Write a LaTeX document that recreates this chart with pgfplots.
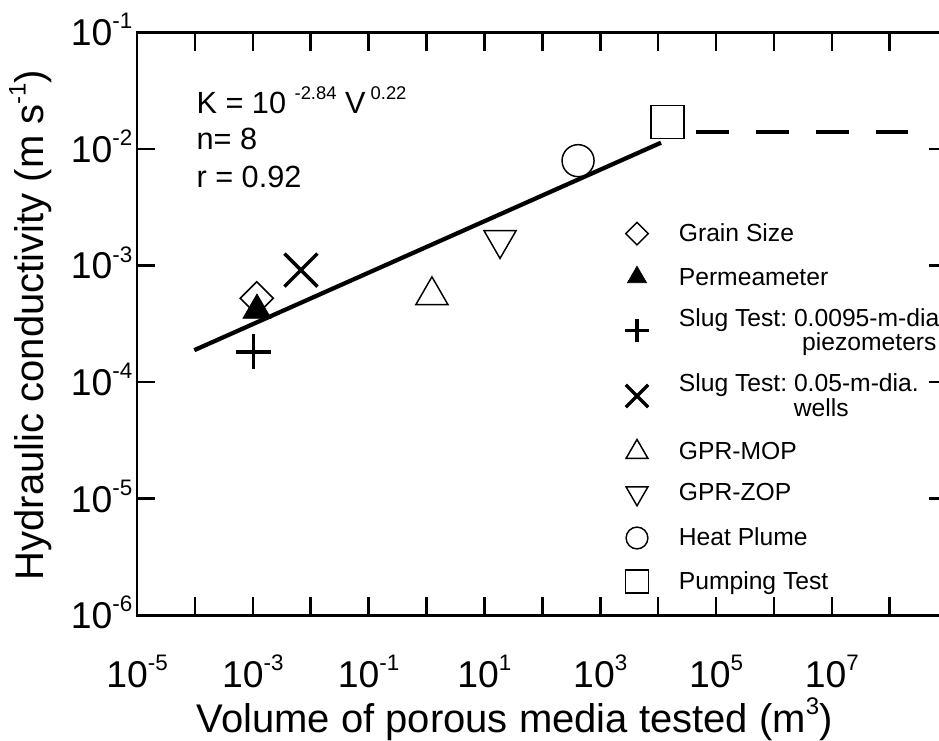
\documentclass[border=0pt]{standalone}
\usepackage{pgfplots}
\pgfplotsset{compat=1.18}
\usepackage{fontspec}
\setmainfont{Liberation Sans}
\frenchspacing
\makeatletter
\newcommand\sups[1]{\raisebox{0.45em}{\fontsize{\fpeval{0.6*\f@size}}{\fpeval{0.7*\f@size}}\selectfont #1}}
\makeatother
\newcommand\tickfont{\fontsize{28}{32}\selectfont}
\newcommand\labfont{\fontsize{30}{34}\selectfont}
\newcommand\legfont{\fontsize{18.5}{16.2}\selectfont}
\newcommand\annfont{\fontsize{23}{26}\selectfont}
\newcommand\ls{\rule[-1.46pt]{0pt}{14.74pt}}
\begin{document}
\begin{tikzpicture}
\useasboundingbox (-102.75pt,-93.525pt) rectangle (601.5pt,461.475pt);
\begin{axis}[
  xmode=log, ymode=log,
  scale only axis, width=608pt, height=437.25pt,
  xmin=1e-5, xmax=1e9, ymin=1e-6, ymax=1e-1,
  axis line style={line width=1.9pt},
  every tick/.style={black, line width=1.9pt},
  tick align=inside, major tick length=13.7pt,
  xminorticks=false, yminorticks=false,
  xtick={1e-5,1e-4,1e-3,1e-2,1e-1,1,1e1,1e2,1e3,1e4,1e5,1e6,1e7,1e8},
  xticklabels={10\sups{-5},,10\sups{-3},,10\sups{-1},,10\sups{1},,10\sups{3},,10\sups{5},,10\sups{7},},
  ytick={1e-6,1e-5,1e-4,1e-3,1e-2,1e-1},
  yticklabels={10\sups{-6},10\sups{-5},10\sups{-4},10\sups{-3},10\sups{-2},10\sups{-1}},
  ticklabel style={font=\tickfont},
  xticklabel style={anchor=base, yshift=-53.8pt},
  yticklabel style={anchor=base east, yshift=-10pt},
  xlabel={Volume of porous media tested (m\sups{3})},
  ylabel={Hydraulic conductivity (m s\sups{-1})},
  label style={font=\labfont},
  xlabel style={at={(axis description cs:0.0679,-0.2012)}, anchor=base west},
  ylabel style={at={(axis description cs:-0.1153,0.498)}, anchor=base},
  legend cell align=left,
  legend style={at={(0.5931,0.6744)}, anchor=north west, draw=none, fill=none,
    inner sep=0pt, row sep=16pt, font=\legfont,
    nodes={align=left, inner sep=0pt}},
  legend image code/.code={\path (-14pt,0pt) (31.2pt,0pt);
    \draw[#1, every mark/.append style={scale=0.68}] plot coordinates {(0pt,0pt)};},
]
\addplot[forget plot, black, line width=3.2pt] coordinates {(9.77e-5,1.88e-4) (1.12e4,1.13e-2)};
\addplot[forget plot, black, line width=3.3pt, dash pattern=on 24.75pt off 20.25pt] coordinates {(4.52e4,1.404e-2) (2.07e8,1.404e-2)};

\addplot[black, only marks, mark=square*, mark size=8.75pt, mark options={rotate=45, fill=white, draw=black, line width=1.1pt}] coordinates {(1.17e-3,5.24e-4)};
\addlegendentry{\ls Grain Size}
\addplot[black, only marks, mark=triangle*, mark size=12.15pt, mark options={fill=black, draw=black, line width=0.5pt}] coordinates {(1.18e-3,4.14e-4)};
\addlegendentry{\ls Permeameter}
\addplot[black, only marks, mark=+, mark size=13.1pt, mark options={line width=2.6pt}] coordinates {(1.02e-3,1.82e-4)};
\addlegendentry{\ls Slug Test: 0.0095-m-dia\\\ls\hspace*{92.5pt}piezometers}
\addplot[black, only marks, mark=x, mark size=17.5pt, mark options={line width=2.6pt}] coordinates {(6.79e-3,9.14e-4)};
\addlegendentry{\ls Slug Test: 0.05-m-dia.\\\ls\hspace*{86.3pt}wells}
\addplot[black, only marks, mark=triangle*, mark size=13.95pt, mark options={fill=white, draw=black, line width=1.1pt}] coordinates {(1.24,5.54e-4)};
\addlegendentry{\ls GPR-MOP}
\addplot[black, only marks, mark=triangle*, mark size=13.95pt, mark options={rotate=180, fill=white, draw=black, line width=1.1pt}] coordinates {(18.6,1.66e-3)};
\addlegendentry{\ls GPR-ZOP}
\addplot[black, only marks, mark=*, mark size=12pt, mark options={fill=white, draw=black, line width=1.1pt}] coordinates {(414,7.93e-3)};
\addlegendentry{\ls Heat Plume}
\addplot[black, only marks, mark=square*, mark size=12.5pt, mark options={fill=white, draw=black, line width=1.1pt}] coordinates {(1.45e4,1.70e-2)};
\addlegendentry{\ls Pumping Test}

\node[anchor=base west, inner sep=0pt, font=\annfont] at (rel axis cs:0.0732,0.861) {K = 10 \sups{-2.84} V\,\sups{0.22}};
\node[anchor=base west, inner sep=0pt, font=\annfont] at (rel axis cs:0.0732,0.7993) {n= 8};
\node[anchor=base west, inner sep=0pt, font=\annfont] at (rel axis cs:0.0732,0.7341) {r = 0.92};
\end{axis}
\end{tikzpicture}
\end{document}
